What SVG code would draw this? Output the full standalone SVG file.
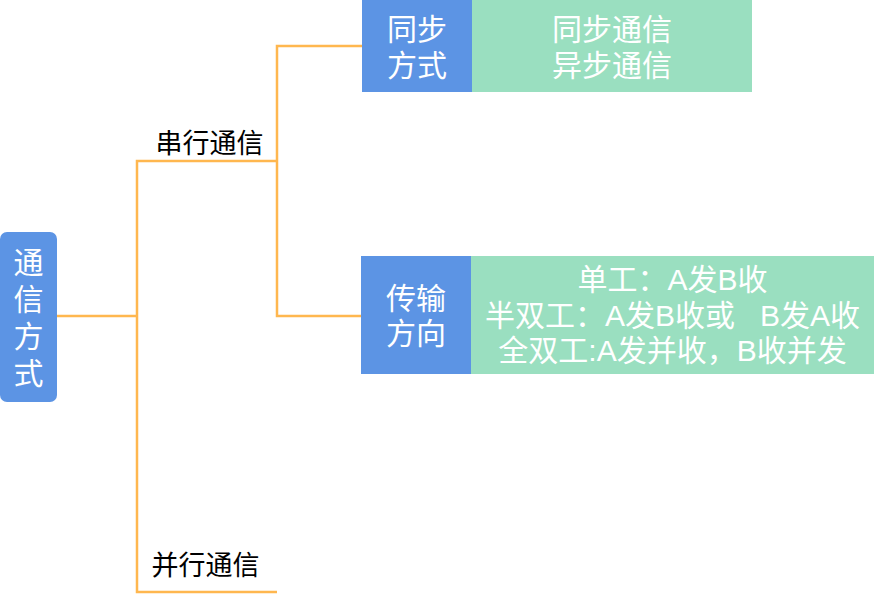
<svg xmlns="http://www.w3.org/2000/svg" width="874" height="595" viewBox="0 0 874 595">
<style>
.w{fill:#ffffff;font-family:"Liberation Sans","Noto Sans CJK SC",sans-serif;font-size:30px;text-anchor:middle}
.k{fill:#000000;font-family:"Liberation Sans","Noto Sans CJK SC",sans-serif;font-size:27px;text-anchor:middle}
.blue{fill:#5C94E4}
.green{fill:#9ADFC0}
.c{fill:none;stroke:#FFB74F;stroke-width:2.5}
</style>
<rect width="874" height="595" fill="#ffffff"/>
<g id="connectors">
<polyline class="c" points="57,316 137,316"/>
<polyline class="c" points="277,592 137,592 137,161 277,161"/>
<polyline class="c" points="362,46 277,46 277,316 361,316"/>
</g>
<g id="root">
<rect class="blue" x="0" y="232" width="57" height="170" rx="7"/>
<text class="w" x="28.5" y="273">通</text>
<text class="w" x="28.5" y="310">信</text>
<text class="w" x="28.5" y="347">方</text>
<text class="w" x="28.5" y="384">式</text>
</g>
<g id="serial">
<text class="k" x="209.5" y="152.5">串行通信</text>
</g>
<g id="parallel">
<text class="k" x="205.5" y="575">并行通信</text>
</g>
<g id="sync">
<rect class="blue" x="362" y="0" width="110" height="92"/>
<rect class="green" x="472" y="0" width="280" height="92"/>
<text class="w" x="417" y="40">同步</text>
<text class="w" x="417" y="76">方式</text>
<text class="w" x="612" y="39.5">同步通信</text>
<text class="w" x="612" y="75.5">异步通信</text>
</g>
<g id="direction">
<rect class="blue" x="361" y="256" width="110" height="118"/>
<rect class="green" x="471" y="256" width="403" height="118"/>
<text class="w" x="416" y="308.5">传输</text>
<text class="w" x="416" y="344">方向</text>
<text class="w" x="672.5" y="289.5">单工：A发B收</text>
<text class="w" x="672.5" y="325.5" xml:space="preserve">半双工：A发B收或   B发A收</text>
<text class="w" x="672.5" y="360.5">全双工:A发并收，B收并发</text>
</g>
</svg>
